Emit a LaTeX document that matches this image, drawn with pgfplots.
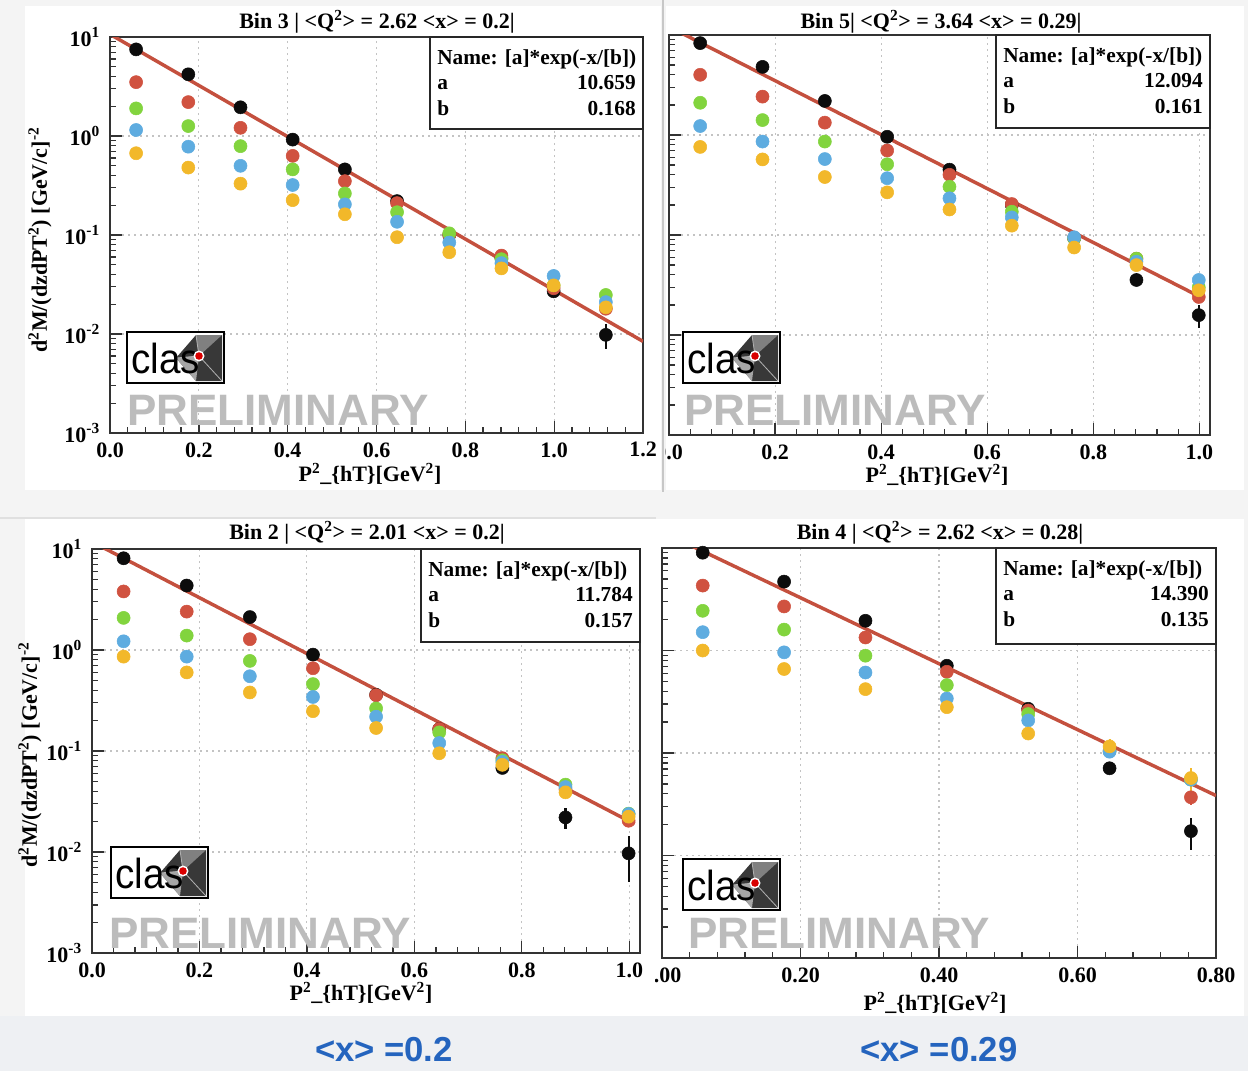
\documentclass[border=0pt]{standalone}
\usepackage{fontspec}
\usepackage{pgfplots}
\pgfplotsset{compat=1.18}
\setmainfont{Liberation Serif}
\newfontfamily\sansfont{Liberation Sans}

\definecolor{ptblack}{RGB}{12,12,12}
\definecolor{ptred}{RGB}{208,82,64}
\definecolor{ptgreen}{RGB}{130,212,62}
\definecolor{ptblue}{RGB}{94,172,224}
\definecolor{ptorange}{RGB}{242,184,42}
\definecolor{fitred}{RGB}{196,80,62}
\definecolor{prelim}{RGB}{188,188,188}
\definecolor{pagebg}{RGB}{244,244,244}
\definecolor{stripbg}{RGB}{238,240,243}
\definecolor{xblue}{RGB}{36,100,190}
\definecolor{gridc}{RGB}{195,195,195}

\newcommand\rootfont{\fontsize{16.5}{18}\selectfont\bfseries}
\newcommand\statfont{\fontsize{16}{18}\selectfont\bfseries}

% shared settings of the four log panels
\pgfplotsset{
  scale only axis,
  axis line style={line width=1.5pt, draw=black!80},
  tick style={line width=1pt, black!80},
  major tick length=9pt, minor tick length=4.5pt,
  tick align=inside, xtick pos=left, ytick pos=left,
  major grid style={gridc, line width=0.8pt, dash pattern=on 1.5pt off 3pt},
  minor x tick num=4,
  tick label style={font=\rootfont},
  x tick label style={yshift=-3.5pt},
  y tick label style={xshift=-4pt},
}

% fit result box: left, top, right, bottom, a, b
\newcommand\statbox[6]{%
  \fill[white] (#1,#2) rectangle (#3,#4);
  \draw[line width=1.5pt, black!85] (#1,#2) rectangle (#3,#4);
  \node[anchor=base west, inner sep=0, font=\statfont] at (#1+7,#2+27) {Name: [a]*exp(-x/[b])};
  \node[anchor=base west, inner sep=0, font=\statfont] at (#1+7,#2+52) {a};
  \node[anchor=base east, inner sep=0, font=\statfont] at (#3-7,#2+52) {#5};
  \node[anchor=base west, inner sep=0, font=\statfont] at (#1+7,#2+78) {b};
  \node[anchor=base east, inner sep=0, font=\statfont] at (#3-7,#2+78) {#6};
}

% collaboration logo, top-left corner given
\newcommand\claslogo[2]{%
  \begin{scope}[shift={(#1,#2)}]
    \fill[white] (0,0) rectangle (97,51);
    \fill[black!78] (49,26) -- (69,3) -- (95,3) -- (95,49) -- (69,49) -- cycle;
    \fill[black!50] (69,3) -- (95,3) -- (72,24) -- cycle;
    \fill[black!35] (49,26) -- (72,24) -- (69,49) -- cycle;
    \draw[black!30, line width=0.6pt] (72,24) -- (95,49) (72,24) -- (49,26) (72,24) -- (69,3);
    \node[anchor=base west, inner sep=0, xscale=0.92, font=\sansfont\fontsize{31.5}{32}\selectfont] at (4,41) {clas};
    \fill[white] (72,24) circle (5.5);
    \fill[red!85!black] (72,24) circle (3.8);
    \draw[black, line width=1.8pt] (0,0) rectangle (97,51);
  \end{scope}
}

\newcommand\prelim[2]{%
  \node[anchor=base west, inner sep=0, text=prelim,
        font=\sansfont\bfseries\fontsize{33}{34}\selectfont] at (#1,#2) {PRELIMINARY};
}

\begin{document}
\begin{tikzpicture}
\useasboundingbox (0pt,0pt) rectangle (936pt,-803.25pt);

% page and panel backgrounds
\begin{scope}[x=0.75pt,y=-0.75pt]
  \fill[pagebg] (0,0) rectangle (1248,1071);
  \fill[white] (25,6) rectangle (661,490);
  \fill[white] (666,6) rectangle (1244,490);
  \fill[white] (25,519) rectangle (655,1016);
  \fill[white] (655,519) rectangle (1244,1016);
  \fill[stripbg] (0,1016) rectangle (1248,1071);
  \draw[black!22, line width=1.2pt] (663,0) -- (663,492);
  \draw[black!12, line width=0.8pt] (0,518) -- (656,518);
\end{scope}

% ---------------- Bin 3 ----------------
\begin{scope}
\clip (0pt,0pt) rectangle (496.5pt,-375pt);
\begin{axis}[anchor=north west, at={(82.5pt,-27.75pt)}, width=399.75pt, height=297pt,
  ymode=log, ymin=0.001, ymax=10, xmin=0, xmax=1.2,
  xmajorgrids, ymajorgrids,
  xtick={0,0.2,0.4,0.6,0.8,1.0,1.2},
  xticklabels={0.0,0.2,0.4,0.6,0.8,1.0,1.2},
  ytick={0.001,0.01,0.1,1,10},
  yticklabels={10\textsuperscript{-3},10\textsuperscript{-2},10\textsuperscript{-1},10\textsuperscript{0},10\textsuperscript{1}},
  minor ytick={0.002,0.003,0.004,0.005,0.006,0.007,0.008,0.009,0.02,0.03,0.04,0.05,0.06,0.07,0.08,0.09,0.2,0.3,0.4,0.5,0.6,0.7,0.8,0.9,2,3,4,5,6,7,8,9}]
\addplot[only marks, mark=*, mark size=4.9pt, color=ptblack, mark options={draw=none, fill=ptblack},
  error bars/.cd, y dir=both, y explicit, error mark=none, error bar style={line width=1.6pt, ptblack}]
  coordinates {(0.0588,7.5) (0.1763,4.2) (0.2938,1.95) (0.4113,0.92) (0.5288,0.46)
  (0.6463,0.22) (0.7638,0.10) (0.8813,0.058) (0.9988,0.027) (1.1163,0.0098) +- (0,0.0028)};
\addplot[only marks, mark=*, mark size=4.9pt, color=ptred, mark options={draw=none, fill=ptred}]
  coordinates {(0.0588,3.5) (0.1763,2.2) (0.2938,1.21) (0.4113,0.63) (0.5288,0.35)
  (0.6463,0.21) (0.7638,0.10) (0.8813,0.062) (0.9988,0.029) (1.1163,0.018)};
\addplot[only marks, mark=*, mark size=4.9pt, color=ptgreen, mark options={draw=none, fill=ptgreen}]
  coordinates {(0.0588,1.9) (0.1763,1.26) (0.2938,0.79) (0.4113,0.46) (0.5288,0.263)
  (0.6463,0.17) (0.7638,0.104) (0.8813,0.057) (0.9988,0.031) (1.1163,0.0248)};
\addplot[only marks, mark=*, mark size=4.9pt, color=ptblue, mark options={draw=none, fill=ptblue}]
  coordinates {(0.0588,1.15) (0.1763,0.78) (0.2938,0.50) (0.4113,0.32) (0.5288,0.204)
  (0.6463,0.136) (0.7638,0.084) (0.8813,0.052) (0.9988,0.0386) (1.1163,0.021)};
\addplot[only marks, mark=*, mark size=4.9pt, color=ptorange, mark options={draw=none, fill=ptorange}]
  coordinates {(0.0588,0.67) (0.1763,0.48) (0.2938,0.33) (0.4113,0.225) (0.5288,0.162)
  (0.6463,0.095) (0.7638,0.067) (0.8813,0.046) (0.9988,0.031) (1.1163,0.0186)};
\addplot[no marks, color=fitred, line width=2.6pt] coordinates {(0,10.659) (1.2,0.00842)};
\end{axis}
\end{scope}

% ---------------- Bin 5 ----------------
\begin{scope}
\clip (498.75pt,0pt) rectangle (936pt,-375pt);
\begin{axis}[anchor=north west, at={(501.75pt,-26.25pt)}, width=405.75pt, height=300pt,
  ymode=log, ymin=0.001, ymax=10, xmin=0, xmax=1.02,
  xmajorgrids, ymajorgrids,
  xtick={0,0.2,0.4,0.6,0.8,1.0},
  xticklabels={0.0,0.2,0.4,0.6,0.8,1.0},
  ytick={0.001,0.01,0.1,1,10},
  yticklabels={10\textsuperscript{-3},10\textsuperscript{-2},10\textsuperscript{-1},10\textsuperscript{0},10\textsuperscript{1}},
  minor ytick={0.002,0.003,0.004,0.005,0.006,0.007,0.008,0.009,0.02,0.03,0.04,0.05,0.06,0.07,0.08,0.09,0.2,0.3,0.4,0.5,0.6,0.7,0.8,0.9,2,3,4,5,6,7,8,9}]
\addplot[only marks, mark=*, mark size=4.9pt, color=ptblack, mark options={draw=none, fill=ptblack},
  error bars/.cd, y dir=both, y explicit, error mark=none, error bar style={line width=1.6pt, ptblack}]
  coordinates {(0.0588,8.3) (0.1763,4.8) (0.2938,2.19) (0.4113,0.96) (0.5288,0.45)
  (0.6463,0.20) (0.7638,0.093) (0.8813,0.0355) +- (0,0.004) (0.9988,0.0158) +- (0,0.004)};
\addplot[only marks, mark=*, mark size=4.9pt, color=ptred, mark options={draw=none, fill=ptred}]
  coordinates {(0.0588,4.0) (0.1763,2.42) (0.2938,1.33) (0.4113,0.70) (0.5288,0.40)
  (0.6463,0.204) (0.7638,0.094) (0.8813,0.058) (0.9988,0.024)};
\addplot[only marks, mark=*, mark size=4.9pt, color=ptgreen, mark options={draw=none, fill=ptgreen}]
  coordinates {(0.0588,2.1) (0.1763,1.41) (0.2938,0.86) (0.4113,0.51) (0.5288,0.304)
  (0.6463,0.171) (0.7638,0.093) (0.8813,0.058) (0.9988,0.030)};
\addplot[only marks, mark=*, mark size=4.9pt, color=ptblue, mark options={draw=none, fill=ptblue}]
  coordinates {(0.0588,1.23) (0.1763,0.86) (0.2938,0.575) (0.4113,0.37) (0.5288,0.233)
  (0.6463,0.150) (0.7638,0.095) (0.8813,0.054) (0.9988,0.0355)};
\addplot[only marks, mark=*, mark size=4.9pt, color=ptorange, mark options={draw=none, fill=ptorange}]
  coordinates {(0.0588,0.76) (0.1763,0.57) (0.2938,0.38) (0.4113,0.267) (0.5288,0.18)
  (0.6463,0.124) (0.7638,0.075) (0.8813,0.050) (0.9988,0.028)};
\addplot[no marks, color=fitred, line width=2.6pt] coordinates {(0,12.094) (1.0,0.02427)};
\end{axis}
\end{scope}

% ---------------- Bin 2 ----------------
\begin{scope}
\clip (0pt,-375pt) rectangle (491.25pt,-803.25pt);
\begin{axis}[anchor=north west, at={(69pt,-411.75pt)}, width=411pt, height=303pt,
  ymode=log, ymin=0.001, ymax=10, xmin=0, xmax=1.02,
  xmajorgrids, ymajorgrids,
  xtick={0,0.2,0.4,0.6,0.8,1.0},
  xticklabels={0.0,0.2,0.4,0.6,0.8,1.0},
  ytick={0.001,0.01,0.1,1,10},
  yticklabels={10\textsuperscript{-3},10\textsuperscript{-2},10\textsuperscript{-1},10\textsuperscript{0},10\textsuperscript{1}},
  minor ytick={0.002,0.003,0.004,0.005,0.006,0.007,0.008,0.009,0.02,0.03,0.04,0.05,0.06,0.07,0.08,0.09,0.2,0.3,0.4,0.5,0.6,0.7,0.8,0.9,2,3,4,5,6,7,8,9}]
\addplot[only marks, mark=*, mark size=4.9pt, color=ptblack, mark options={draw=none, fill=ptblack},
  error bars/.cd, y dir=both, y explicit, error mark=none, error bar style={line width=1.6pt, ptblack}]
  coordinates {(0.0588,8.1) (0.1763,4.35) (0.2938,2.12) (0.4113,0.90) (0.5288,0.36)
  (0.6463,0.165) (0.7638,0.068) (0.8813,0.022) +- (0,0.005) (0.9988,0.0097) +- (0,0.0047)};
\addplot[only marks, mark=*, mark size=4.9pt, color=ptred, mark options={draw=none, fill=ptred}]
  coordinates {(0.0588,3.8) (0.1763,2.4) (0.2938,1.28) (0.4113,0.66) (0.5288,0.357)
  (0.6463,0.165) (0.7638,0.085) (0.8813,0.042) (0.9988,0.0204)};
\addplot[only marks, mark=*, mark size=4.9pt, color=ptgreen, mark options={draw=none, fill=ptgreen}]
  coordinates {(0.0588,2.08) (0.1763,1.39) (0.2938,0.78) (0.4113,0.46) (0.5288,0.264)
  (0.6463,0.153) (0.7638,0.081) (0.8813,0.0465) (0.9988,0.024)};
\addplot[only marks, mark=*, mark size=4.9pt, color=ptblue, mark options={draw=none, fill=ptblue}]
  coordinates {(0.0588,1.22) (0.1763,0.86) (0.2938,0.55) (0.4113,0.343) (0.5288,0.219)
  (0.6463,0.12) (0.7638,0.078) (0.8813,0.044) (0.9988,0.0238)};
\addplot[only marks, mark=*, mark size=4.9pt, color=ptorange, mark options={draw=none, fill=ptorange}]
  coordinates {(0.0588,0.86) (0.1763,0.60) (0.2938,0.38) (0.4113,0.248) (0.5288,0.169)
  (0.6463,0.095) (0.7638,0.073) (0.8813,0.039) (0.9988,0.0224)};
\addplot[no marks, color=fitred, line width=2.6pt] coordinates {(0,11.784) (1.01,0.01894)};
\end{axis}
\end{scope}

% ---------------- Bin 4 ----------------
\begin{scope}
\clip (491.25pt,-375pt) rectangle (936pt,-803.25pt);
\begin{axis}[anchor=north west, at={(496.5pt,-411pt)}, width=415.5pt, height=307.5pt,
  ymode=log, ymin=0.001, ymax=10, xmin=0, xmax=0.8,
  xmajorgrids, ymajorgrids,
  xtick={0,0.2,0.4,0.6,0.8},
  xticklabels={0.00,0.20,0.40,0.60,0.80},
  ytick={0.001,0.01,0.1,1,10},
  yticklabels={,,,,},
  minor ytick={0.002,0.003,0.004,0.005,0.006,0.007,0.008,0.009,0.02,0.03,0.04,0.05,0.06,0.07,0.08,0.09,0.2,0.3,0.4,0.5,0.6,0.7,0.8,0.9,2,3,4,5,6,7,8,9}]
\addplot[only marks, mark=*, mark size=4.9pt, color=ptblack, mark options={draw=none, fill=ptblack},
  error bars/.cd, y dir=both, y explicit, error mark=none, error bar style={line width=1.6pt, ptblack}]
  coordinates {(0.0588,9.0) (0.1763,4.7) (0.2938,1.95) (0.4113,0.71) (0.5288,0.27)
  (0.6463,0.071) (0.7638,0.0173) +- (0,0.006)};
\addplot[only marks, mark=*, mark size=4.9pt, color=ptred, mark options={draw=none, fill=ptred},
  error bars/.cd, y dir=both, y explicit, error mark=none, error bar style={line width=1.6pt, ptred}]
  coordinates {(0.0588,4.3) (0.1763,2.69) (0.2938,1.34) (0.4113,0.62) (0.5288,0.26)
  (0.6463,0.105) (0.7638,0.037) +- (0,0.006)};
\addplot[only marks, mark=*, mark size=4.9pt, color=ptgreen, mark options={draw=none, fill=ptgreen}]
  coordinates {(0.0588,2.44) (0.1763,1.6) (0.2938,0.89) (0.4113,0.46) (0.5288,0.24)
  (0.6463,0.105) (0.7638,0.055)};
\addplot[only marks, mark=*, mark size=4.9pt, color=ptblue, mark options={draw=none, fill=ptblue}]
  coordinates {(0.0588,1.51) (0.1763,0.96) (0.2938,0.61) (0.4113,0.34) (0.5288,0.208)
  (0.6463,0.103) (0.7638,0.055)};
\addplot[only marks, mark=*, mark size=4.9pt, color=ptorange, mark options={draw=none, fill=ptorange},
  error bars/.cd, y dir=both, y explicit, error mark=none, error bar style={line width=1.6pt, ptorange}]
  coordinates {(0.0588,1.0) (0.1763,0.66) (0.2938,0.42) (0.4113,0.28) (0.5288,0.155)
  (0.6463,0.116) +- (0,0.02) (0.7638,0.057) +- (0,0.015)};
\addplot[no marks, color=fitred, line width=2.6pt] coordinates {(0,14.39) (0.8,0.03844)};
\end{axis}
\end{scope}

% titles, axis titles, fit boxes, logos
\begin{scope}[x=0.75pt,y=-0.75pt]
  \node[font=\rootfont] at (377,22) {Bin 3 | <Q\textsuperscript{2}> = 2.62 <x> = 0.2|};
  \node[font=\rootfont] at (941,22) {Bin 5| <Q\textsuperscript{2}> = 3.64 <x> = 0.29|};
  \node[font=\rootfont] at (367,533) {Bin 2 | <Q\textsuperscript{2}> = 2.01 <x> = 0.2|};
  \node[font=\rootfont] at (940,533) {Bin 4 | <Q\textsuperscript{2}> = 2.62 <x> = 0.28|};

  \node[font=\rootfont] at (370,474) {P\textsuperscript{2}\_\{hT\}[GeV\textsuperscript{2}]};
  \node[font=\rootfont] at (937,475) {P\textsuperscript{2}\_\{hT\}[GeV\textsuperscript{2}]};
  \node[font=\rootfont] at (361,993) {P\textsuperscript{2}\_\{hT\}[GeV\textsuperscript{2}]};
  \node[font=\rootfont] at (935,1003) {P\textsuperscript{2}\_\{hT\}[GeV\textsuperscript{2}]};

  \node[font=\rootfont, rotate=90] at (40,240) {d\textsuperscript{2}M/(dzdPT\textsuperscript{2}) [GeV/c]\textsuperscript{-2}};
  \node[font=\rootfont, rotate=90] at (30,755) {d\textsuperscript{2}M/(dzdPT\textsuperscript{2}) [GeV/c]\textsuperscript{-2}};

  \statbox{430}{37}{643}{129}{10.659}{0.168}
  \statbox{996}{35}{1210}{128}{12.094}{0.161}
  \statbox{421}{549}{640}{642}{11.784}{0.157}
  \statbox{996}{548}{1216}{644}{14.390}{0.135}

  \claslogo{127}{332}
  \claslogo{683}{332}
  \claslogo{111}{847}
  \claslogo{683}{859}

  \prelim{127}{425}
  \prelim{684}{425}
  \prelim{109}{948}
  \prelim{688}{948}

  \node[text=xblue, font=\sansfont\bfseries\fontsize{26}{28}\selectfont] at (384,1050) {<x> =0.2};
  \node[text=xblue, font=\sansfont\bfseries\fontsize{26}{28}\selectfont] at (939,1050) {<x> =0.29};
\end{scope}
\end{tikzpicture}
\end{document}
